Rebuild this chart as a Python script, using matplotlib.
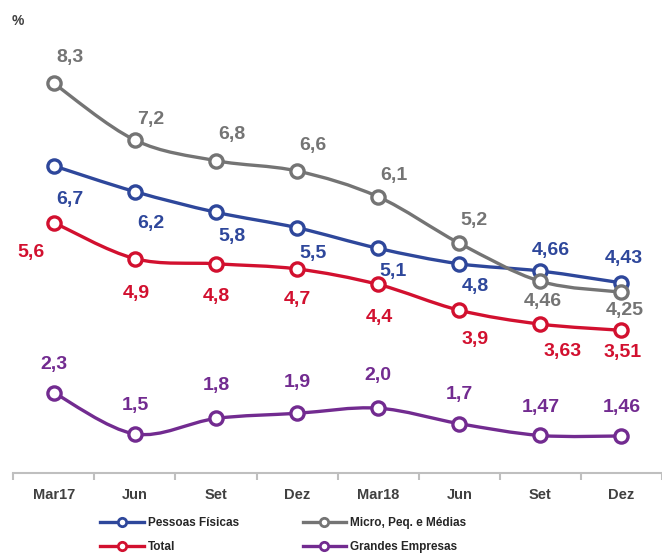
import matplotlib.pyplot as plt
from matplotlib.path import Path
from matplotlib.patches import PathPatch
from matplotlib.lines import Line2D
import numpy as np

plt.rcParams['font.family'] = ['Liberation Sans', 'DejaVu Sans']

categories = ["Mar17", "Jun", "Set", "Dez", "Mar18", "Jun", "Set", "Dez"]

pessoas = [6.7, 6.2, 5.8, 5.5, 5.1, 4.8, 4.66, 4.43]
micro = [8.3, 7.2, 6.8, 6.6, 6.1, 5.2, 4.46, 4.25]
total = [5.6, 4.9, 4.8, 4.7, 4.4, 3.9, 3.63, 3.51]
grandes = [2.3, 1.5, 1.8, 1.9, 2.0, 1.7, 1.47, 1.46]

pessoas_txt = ["6,7", "6,2", "5,8", "5,5", "5,1", "4,8", "4,66", "4,43"]
micro_txt = ["8,3", "7,2", "6,8", "6,6", "6,1", "5,2", "4,46", "4,25"]
total_txt = ["5,6", "4,9", "4,8", "4,7", "4,4", "3,9", "3,63", "3,51"]
grandes_txt = ["2,3", "1,5", "1,8", "1,9", "2,0", "1,7", "1,47", "1,46"]

# label offsets in pixels (dx, dy)
pessoas_off = [(16, -34), (16, -32), (16, -24), (16, -26), (15, -23), (16, -23), (10, 21), (2, 24)]
micro_off = [(16, 26), (16, 21), (16, 26), (16, 26), (16, 21), (15, 23), (2, -20), (3, -18)]
total_off = [(-23, -30), (1, -35), (0, -33), (0, -31), (1, -33), (16, -29), (22, -27), (1, -22)]
grandes_off = [(0, 28), (0, 28), (0, 33), (0, 31), (0, 33), (0, 29), (0, 28), (0, 28)]

colors = {"pessoas": "#2E479B", "micro": "#747474", "total": "#D2102F", "grandes": "#722B90"}


def smooth_path(x, y):
    # cubic bezier through the points (Excel-like smoothing)
    pts = np.column_stack([x, y])
    n = len(pts)
    verts = [pts[0]]
    codes = [Path.MOVETO]
    for i in range(n - 1):
        p0 = pts[max(i - 1, 0)]
        p1 = pts[i]
        p2 = pts[i + 1]
        p3 = pts[min(i + 2, n - 1)]
        c1 = p1 + (p2 - p0) / 6
        c2 = p2 - (p3 - p1) / 6
        verts += [c1, c2, p2]
        codes += [Path.CURVE4] * 3
    return Path(verts, codes)


fig = plt.figure(figsize=(6.62, 5.54), dpi=100)
ax = fig.add_axes([0.02, 0.146, 0.98, 0.818])

x = np.arange(len(categories))
series = [
    ("Pessoas Físicas", pessoas, pessoas_txt, pessoas_off, colors["pessoas"]),
    ("Micro, Peq. e Médias", micro, micro_txt, micro_off, colors["micro"]),
    ("Total", total, total_txt, total_off, colors["total"]),
    ("Grandes Empresas", grandes, grandes_txt, grandes_off, colors["grandes"]),
]

for name, vals, txts, offs, c in series:
    ax.add_patch(PathPatch(smooth_path(x, vals), facecolor="none", edgecolor=c,
                           lw=2.4, zorder=2, capstyle="round"))
    ax.plot(x, vals, linestyle="none", marker="o", markersize=9.5, markerfacecolor="white",
            markeredgecolor=c, markeredgewidth=2.4, zorder=3)
    for xi, v, t, (dx, dy) in zip(x, vals, txts, offs):
        ax.annotate(t, (xi, v), xytext=(dx, dy), textcoords="offset pixels",
                    ha="center", va="center", fontsize=14, fontweight="bold", color=c)

ax.set_xlim(-0.5, 7.5)
ax.set_ylim(0.74, 9.53)
ax.set_yticks([])
for s in ["left", "right", "top"]:
    ax.spines[s].set_visible(False)
ax.spines["bottom"].set_color("#BFBFBF")
ax.spines["bottom"].set_linewidth(1.5)

ax.set_xticks(x)
ax.set_xticklabels(categories, fontsize=10.5, fontweight="bold", color="#404040")
ax.tick_params(axis="x", which="major", length=0, pad=11)
ax.set_xticks(np.arange(-0.5, 8.0, 1.0), minor=True)
ax.tick_params(axis="x", which="minor", length=5, width=1.5, color="#BFBFBF", direction="out")

fig.text(0.027, 0.962, "%", fontsize=10, fontweight="bold", color="#404040", ha="center", va="center")

handles = []
labels = []
for name, vals, txts, offs, c in [series[0], series[2], series[1], series[3]]:
    handles.append(Line2D([], [], color=c, lw=2.4, marker="o", markersize=6,
                          markerfacecolor="white", markeredgecolor=c, markeredgewidth=2))
    labels.append(name)

fig.legend(handles, labels, ncol=2, loc="center left", bbox_to_anchor=(0.151, 0.034),
           frameon=False, prop={"size": 8.5, "weight": "bold"},
           handlelength=3.7, handletextpad=0.35, columnspacing=5.4, labelspacing=1.05,
           labelcolor="#262626", borderpad=0, borderaxespad=0)

fig.savefig("out.png", dpi=100)
